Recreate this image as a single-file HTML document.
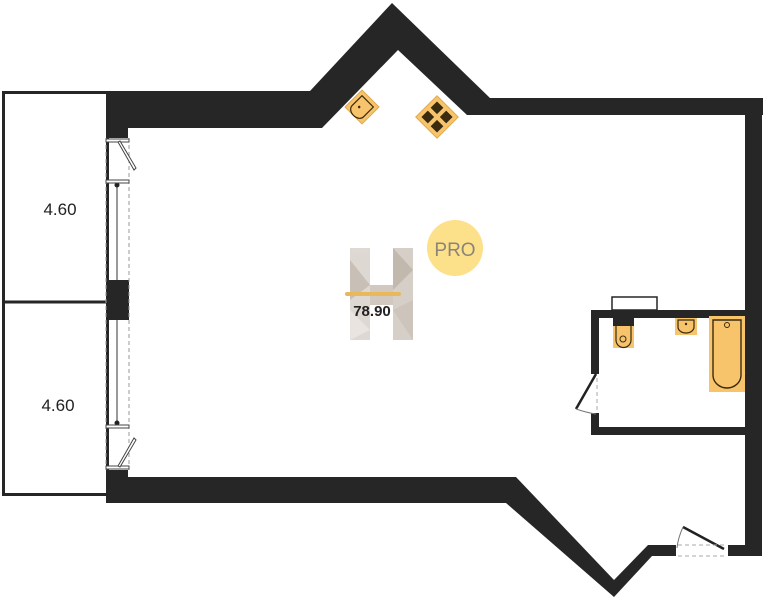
<!DOCTYPE html>
<html><head><meta charset="utf-8"><style>
html,body{margin:0;padding:0;background:#fff;width:763px;height:600px;overflow:hidden}
svg{display:block}
</style></head><body>
<svg width="763" height="600" viewBox="0 0 763 600" xmlns="http://www.w3.org/2000/svg">
<!-- balconies -->
<rect x="3.5" y="92.5" width="104" height="402" fill="#fff" stroke="#262626" stroke-width="3"/>
<line x1="3" y1="302" x2="107" y2="302" stroke="#262626" stroke-width="3"/>
<text x="60" y="215" font-family="Liberation Sans, sans-serif" font-size="17" text-anchor="middle" fill="#222">4.60</text>
<text x="58" y="411" font-family="Liberation Sans, sans-serif" font-size="17" text-anchor="middle" fill="#222">4.60</text>
<!-- walls -->
<g fill="#262626">
<polygon points="106,91 310,91 392,3 490,98 763,98 763,115 467,115 398,50 322,128 128,128 128,138 106,138"/>
<rect x="745" y="98" width="17" height="458"/>
<rect x="106" y="280" width="23" height="40"/>
<polygon points="106,470 128,470 128,477 516,477 614,580 648,545 676,545 676,556 652,556 614,597 506,503 106,503"/>
<rect x="728" y="545" width="34" height="11"/>
<rect x="106" y="497" width="22" height="6"/>
<!-- bathroom walls -->
<rect x="591" y="310" width="154" height="8"/>
<rect x="591" y="310" width="8" height="64"/>
<rect x="591" y="413" width="8" height="22"/>
<rect x="591" y="427" width="154" height="8"/>
</g>
<!-- window lines -->
<g stroke="#999" stroke-width="1" stroke-dasharray="4,3" fill="none">
<line x1="106" y1="138" x2="106" y2="470"/>
<line x1="129" y1="138" x2="129" y2="470"/>
<line x1="745" y1="373" x2="745" y2="373"/>
</g>
<line x1="117" y1="185" x2="117" y2="280" stroke="#555" stroke-width="1.2"/>
<line x1="117" y1="320" x2="117" y2="423" stroke="#555" stroke-width="1.2"/>
<circle cx="117" cy="185" r="2.5" fill="#222"/><circle cx="117" cy="423" r="2.5" fill="#222"/>
<g stroke="#444" stroke-width="1" fill="#fff">
<rect x="106" y="139" width="23" height="3"/><rect x="106" y="180" width="23" height="3"/>
<rect x="106" y="425" width="23" height="3"/><rect x="106" y="466" width="23" height="3"/>
<polygon points="118,142 134,170 136,168 120,141"/>
<polygon points="118,466 134,438 136,440 120,467"/>
</g>
<!-- bathroom door -->
<line x1="596" y1="374" x2="576" y2="409" stroke="#222" stroke-width="2.5"/>
<path d="M576 409 Q588 413 596 414" stroke="#777" fill="none"/>
<line x1="597" y1="378" x2="597" y2="413" stroke="#aaa" stroke-dasharray="4,3"/>
<!-- entrance door -->
<line x1="683" y1="527" x2="724" y2="549" stroke="#222" stroke-width="2.5"/>
<path d="M683 527 Q678 538 677 548" stroke="#777" fill="none"/>
<line x1="678" y1="545" x2="727" y2="545" stroke="#aaa" stroke-dasharray="4,3"/>
<line x1="678" y1="556" x2="727" y2="556" stroke="#aaa" stroke-dasharray="4,3"/>
<!-- bathroom fixtures -->
<rect x="612" y="297" width="45" height="13" fill="#fff" stroke="#262626" stroke-width="1.5"/>
<rect x="613" y="318" width="21" height="30" fill="#f7c46b"/>
<rect x="613" y="318" width="21" height="8" fill="#262626"/>
<path d="M616 326 V340 A7 7 0 0 0 631 340 V326" fill="none" stroke="#3a2a10" stroke-width="1.2"/>
<circle cx="623" cy="339" r="3" fill="none" stroke="#3a2a10"/>
<rect x="675" y="318" width="22" height="17" fill="#f7c46b"/>
<path d="M678 320 H694 V327 A8 6 0 0 1 678 327 Z" fill="none" stroke="#3a2a10" stroke-width="1.2"/>
<circle cx="686" cy="324" r="1.2" fill="#3a2a10"/>
<rect x="709" y="316" width="36" height="76" fill="#f7c46b"/>
<path d="M713 320 H741 V375 A14 13 0 0 1 713 375 Z" fill="none" stroke="#3a2a10" stroke-width="1.4"/>
<circle cx="727" cy="325" r="2.5" fill="none" stroke="#3a2a10"/>
<!-- kitchen sink & stove -->
<g transform="translate(362,107) rotate(-45)">
<rect x="-12" y="-12" width="24" height="24" fill="#f7c46b" stroke="#e0a84a"/>
<path d="M-8 -8 H8 V6 A8 6 0 0 1 -8 6 Z" fill="none" stroke="#3a2a10" stroke-width="1.2" transform="rotate(90)"/>
<circle cx="-2" cy="-2" r="1.3" fill="#3a2a10"/>
</g>
<g transform="translate(437,117) rotate(45)">
<rect x="-15" y="-15" width="30" height="30" fill="#f7c46b" stroke="#e0a84a"/>
<rect x="-11" y="-11" width="9" height="9" fill="#3a2a10"/>
<rect x="2" y="-11" width="9" height="9" fill="#3a2a10"/>
<rect x="-11" y="2" width="9" height="9" fill="#3a2a10"/>
<rect x="2" y="2" width="9" height="9" fill="#3a2a10"/>
</g>
<!-- logo -->
<g opacity="0.85">
<rect x="350" y="248" width="20" height="92" fill="#d9d2cc"/>
<rect x="393" y="248" width="20" height="92" fill="#cfc7bf"/>
<rect x="370" y="285" width="23" height="20" fill="#c9bfb5"/>
<polygon points="350,260 370,285 350,300" fill="#bfb5aa"/>
<polygon points="393,248 413,270 393,290" fill="#b8ada1"/>
<polygon points="350,310 370,330 350,340" fill="#e6e0da"/>
<polygon points="393,310 413,300 413,340" fill="#c5bbb0"/>
</g>
<rect x="345" y="292" width="56" height="4" fill="#e8b85a" rx="2"/>
<text x="372" y="316" font-family="Liberation Sans, sans-serif" font-size="15" font-weight="bold" text-anchor="middle" fill="#222">78.90</text>
<circle cx="455" cy="248" r="28" fill="#fde08a"/>
<text x="455" y="256" font-family="Liberation Sans, sans-serif" font-size="19" text-anchor="middle" fill="#8a8578">PRO</text>
</svg>
</body></html>
